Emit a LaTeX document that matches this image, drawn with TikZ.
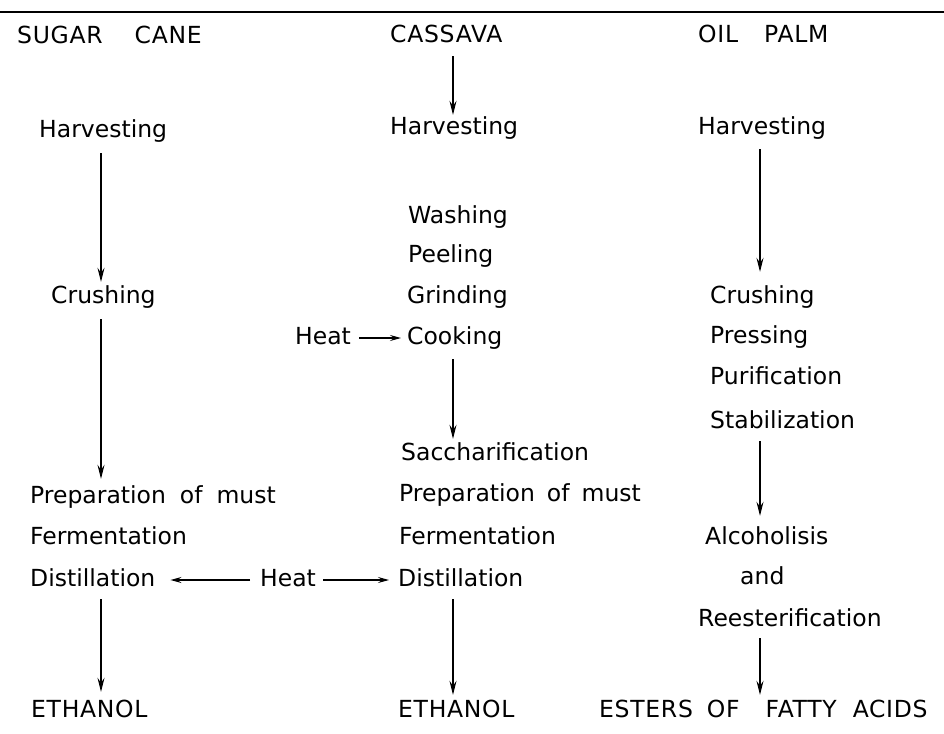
\documentclass[tikz,border=0pt]{standalone}
\usepackage{fontspec}
\setmainfont{DejaVu Sans}
\usetikzlibrary{arrows.meta}
\begin{document}
\begin{tikzpicture}[x=1pt,y=-1pt,
  lbl/.style={anchor=west,inner sep=0pt,text height=17pt,text depth=5pt,font=\fontsize{23.5}{28}\selectfont},
  hdr/.style={lbl,font=\fontsize{23.5}{28}\selectfont\addfontfeature{LetterSpace=3}},
  arr/.style={line width=1.1pt,-{Stealth[length=14pt,width=7pt,inset=5pt]}},
  harr/.style={line width=1.1pt,-{Stealth[length=11pt,width=6pt,inset=4pt]}}]
\useasboundingbox (0,0) rectangle (944,733);
\draw[line width=1.8pt] (0,12) -- (944,12);
% column x lines
\coordinate (xl) at (101,0);
\coordinate (xm) at (453,0);
\coordinate (xr) at (760,0);
% headers
\node[hdr] (sc) at (17,38) {SUGAR\hspace{32pt}CANE};
\node[hdr] (cas) at (390,37) {CASSAVA};
\node[hdr] (op) at (698,37) {OIL\hspace{26pt}PALM};
% sugar cane
\node[lbl] (hl) at (39,131) {Harvesting};
\node[lbl] (crl) at (51,297) {Crushing};
\node[lbl] (pml) at (30,497) {Preparation\hspace{14pt}of\hspace{14pt}must};
\node[lbl] (fl) at (30,538) {Fermentation};
\node[lbl] (dl) at (30,580) {Distillation};
\node[hdr] (el) at (31,711) {ETHANOL};
\node[lbl] (heat2) at (260,580) {Heat};
% cassava
\node[lbl] (hm) at (390,129) {Harvesting};
\node[lbl] (wash) at (408,217) {Washing};
\node[lbl] (peel) at (408,256) {Peeling};
\node[lbl] (grind) at (407,297) {Grinding};
\node[lbl] (cook) at (407,338) {Cooking};
\node[lbl] (heat1) at (295,338) {Heat};
\node[lbl] (sacc) at (401,454) {Saccharification};
\node[lbl] (pmm) at (399,495) {Preparation\hspace{12pt}of\hspace{12pt}must};
\node[lbl] (fm) at (399,538) {Fermentation};
\node[lbl] (dm) at (398,580) {Distillation};
\node[hdr] (em) at (398,711) {ETHANOL};
% oil palm
\node[lbl] (hr) at (698,129) {Harvesting};
\node[lbl] (crr) at (710,297) {Crushing};
\node[lbl] (press) at (710,337) {Pressing};
\node[lbl] (pur) at (710,378) {Purification};
\node[lbl] (stab) at (710,422) {Stabilization};
\node[lbl] (alc) at (705,538) {Alcoholisis};
\node[lbl] (and) at (740,578) {and};
\node[lbl] (rees) at (698,620) {Reesterification};
\node[hdr] (est) at (599,711) {ESTERS\hspace{14pt}OF\hspace{26pt}FATTY\hspace{16pt}ACIDS};
% arrows
\draw[arr,shorten <=8pt,shorten >=3pt] (cas.south -| xm) -- (hm.north -| xm);
\draw[arr,shorten <=11pt,shorten >=4pt] (hl.south -| xl) -- (crl.north -| xl);
\draw[arr,shorten <=11pt,shorten >=7pt] (crl.south -| xl) -- (pml.north -| xl);
\draw[arr,shorten <=8pt,shorten >=8pt] (dl.south -| xl) -- (el.north -| xl);
\draw[harr,shorten <=10pt,shorten >=15pt] (heat2.west) -- (dl.east);
\draw[harr,shorten <=7pt,shorten >=9pt] (heat2.east) -- (dm.west);
\draw[harr,shorten <=8pt,shorten >=6pt] (heat1.east) -- (cook.west);
\draw[arr,shorten <=10pt,shorten >=4pt] (cook.south -| xm) -- (sacc.north -| xm);
\draw[arr,shorten <=8pt,shorten >=5pt] (dm.south -| xm) -- (em.north -| xm);
\draw[arr,shorten <=9pt,shorten >=14pt] (hr.south -| xr) -- (crr.north -| xr);
\draw[arr,shorten <=8pt,shorten >=11pt] (stab.south -| xr) -- (alc.north -| xr);
\draw[arr,shorten <=7pt,shorten >=5pt] (rees.south -| xr) -- (est.north -| xr);
\end{tikzpicture}
\end{document}
